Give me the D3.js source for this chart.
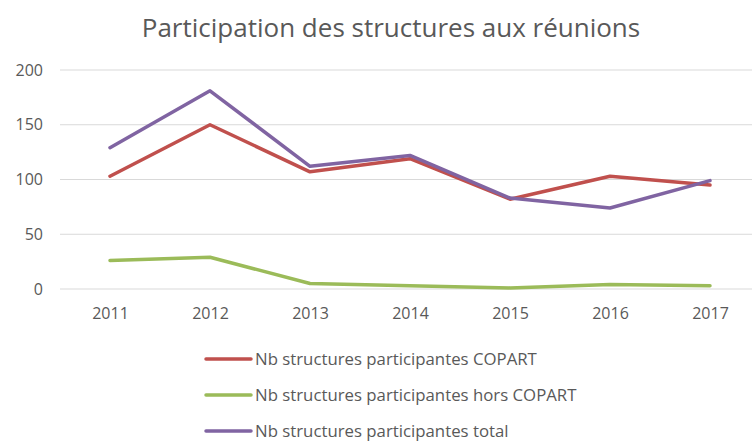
<!DOCTYPE html>
<html lang="fr">
<head>
    <meta charset="UTF-8">
    <title>Participation des structures aux réunions</title>
    <script src="https://d3js.org/d3.v7.min.js"></script>
    <style>
        body {
            margin: 0;
            background: #fff;
            font-family: "Open Sans", Arial, sans-serif;
        }
        .title { fill: #595959; font-size: 26px; }
        .tick text { fill: #595959; font-size: 16px; font-family: "Open Sans", Arial, sans-serif; }
        .legend text { fill: #595959; font-size: 16.8px; }
    </style>
</head>
<body>
    <svg id="chart" width="752" height="441"></svg>
    <script>
        // data
        const years = ["2011", "2012", "2013", "2014", "2015", "2016", "2017"];
        const copart = [103, 150, 107, 119, 82, 103, 95];
        const horsCopart = [26, 29, 5, 3, 1, 4, 3];
        const total = [129, 181, 112, 122, 83, 74, 99];
        const yTicks = [0, 50, 100, 150, 200];

        const series = [
            { name: "Nb structures participantes COPART", values: copart, color: "#C0504D" },
            { name: "Nb structures participantes hors COPART", values: horsCopart, color: "#9BBB59" },
            { name: "Nb structures participantes total", values: total, color: "#8064A2" }
        ];

        const svg = d3.select("#chart");

        // plot area (extends a bit past the right edge, like the original crop)
        const plot = { left: 60, right: 760, top: 70, bottom: 289 };

        const x = d3.scalePoint()
            .domain(years)
            .range([plot.left, plot.right])
            .padding(0.5);

        const y = d3.scaleLinear()
            .domain([0, 200])
            .range([plot.bottom, plot.top]);

        // title
        svg.append("text")
            .attr("class", "title")
            .attr("x", 391)
            .attr("y", 37)
            .attr("text-anchor", "middle")
            .text("Participation des structures aux réunions");

        // gridlines
        svg.append("g")
            .selectAll("line")
            .data(yTicks)
            .join("line")
            .attr("x1", plot.left)
            .attr("x2", plot.right)
            .attr("y1", d => y(d))
            .attr("y2", d => y(d))
            .attr("stroke", "#d9d9d9")
            .attr("stroke-width", 1);

        // y axis labels
        const yAxis = svg.append("g")
            .attr("transform", `translate(${plot.left - 17},0)`)
            .call(d3.axisLeft(y).tickValues(yTicks).tickSize(0).tickPadding(0));
        yAxis.select(".domain").remove();

        // x axis labels
        const xAxis = svg.append("g")
            .attr("transform", `translate(0,${plot.bottom + 11})`)
            .call(d3.axisBottom(x).tickSize(0).tickPadding(8));
        xAxis.select(".domain").remove();

        // lines
        const line = d3.line()
            .x((d, i) => x(years[i]))
            .y(d => y(d));

        svg.append("g")
            .selectAll("path")
            .data(series)
            .join("path")
            .attr("d", d => line(d.values))
            .attr("fill", "none")
            .attr("stroke", d => d.color)
            .attr("stroke-width", 3.5)
            .attr("stroke-linejoin", "round")
            .attr("stroke-linecap", "round");

        // legend
        const legend = svg.append("g")
            .attr("class", "legend")
            .selectAll("g")
            .data(series)
            .join("g")
            .attr("transform", (d, i) => `translate(206,${359 + i * 36})`);

        legend.append("line")
            .attr("x1", 0)
            .attr("x2", 45)
            .attr("stroke", d => d.color)
            .attr("stroke-width", 3.5)
            .attr("stroke-linecap", "round");

        legend.append("text")
            .attr("x", 49)
            .attr("dy", "0.35em")
            .text(d => d.name);
    </script>
</body>
</html>
